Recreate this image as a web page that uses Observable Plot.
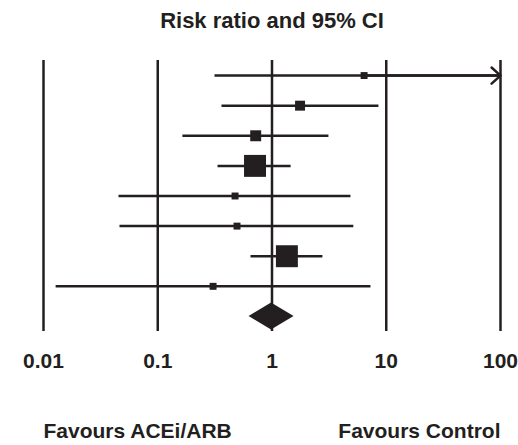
<!DOCTYPE html>
<html>
<head>
<meta charset="utf-8">
<script src="https://cdn.jsdelivr.net/npm/d3@7"></script>
<script src="https://cdn.jsdelivr.net/npm/@observablehq/plot@0.6"></script>
<style>
  html, body { margin: 0; padding: 0; background: #fff; }
</style>
</head>
<body>
<div id="chart"></div>
<script>
// Study rows (top to bottom)
const rows = [1, 2, 3, 4, 5, 6, 7, 8];
const riskRatio = [6.4, 1.76, 0.72, 0.71, 0.475, 0.494, 1.35, 0.305];
const ciLower = [0.317, 0.365, 0.166, 0.337, 0.0458, 0.0467, 0.655, 0.0129];
const ciUpper = [150, 8.63, 3.15, 1.47, 4.91, 5.2, 2.79, 7.35];
const weights = [3.5, 7.2, 8.7, 34.9, 3.5, 3.5, 34.9, 3.5];

// Pooled estimate
const pooledRow = 9;
const pooledRR = 0.99;
const pooledLower = 0.63;
const pooledUpper = 1.56;

const tickValues = [0.01, 0.1, 1, 10, 100];
const tickLabels = ["0.01", "0.1", "1", "10", "100"];
const xMax = 100;

const titleText = "Risk ratio and 95% CI";
const leftLabel = "Favours ACEi/ARB";
const rightLabel = "Favours Control";

const ink = "#231f20";

const studies = rows.map((r, i) => ({
  row: r, rr: riskRatio[i], lo: ciLower[i], hi: ciUpper[i], w: weights[i]
}));
const clipped = studies.filter(d => d.hi > xMax);
const h = 0.45;
const diamond = [
  {y: pooledRow - h, x1: pooledRR, x2: pooledRR},
  {y: pooledRow, x1: pooledLower, x2: pooledUpper},
  {y: pooledRow + h, x1: pooledRR, x2: pooledRR}
];

const chart = Plot.plot({
  width: 518,
  height: 445,
  marginLeft: 43,
  marginRight: 18,
  marginTop: 60,
  marginBottom: 114,
  style: {fontFamily: "'Liberation Sans', Arial, sans-serif", background: "#fff", color: ink},
  x: {type: "log", domain: [0.01, xMax]},
  y: {domain: [0.5, 9.5], reverse: true, axis: null},
  r: {type: "sqrt", domain: [0, 35], range: [0, 12.4]},
  marks: [
    Plot.ruleX(tickValues, {y1: 0.5, y2: 9.5, stroke: ink, strokeWidth: 2.5}),
    Plot.ruleY(studies, {y: "row", x1: "lo", x2: d => Math.min(d.hi, xMax), stroke: ink, strokeWidth: 2.5}),
    Plot.arrow(clipped, {x1: "rr", x2: () => xMax, y1: "row", y2: "row", stroke: ink, strokeWidth: 2.5, headLength: 7.2, headAngle: 84, bend: 0}),
    Plot.dot(studies, {x: "rr", y: "row", r: "w", symbol: "square", fill: ink, stroke: null}),
    Plot.areaX(diamond, {y: "y", x1: "x1", x2: "x2", fill: ink, curve: "linear"}),
    Plot.axisX({ticks: tickValues, tickFormat: d => tickLabels[tickValues.indexOf(d)], tickSize: 0, tickPadding: 22, fontSize: 21, fontWeight: "bold", label: null}),
    Plot.text([titleText], {frameAnchor: "top", lineAnchor: "middle", dy: -40, fontSize: 22, fontWeight: "bold", fill: ink}),
    Plot.text([leftLabel], {frameAnchor: "bottom-left", lineAnchor: "middle", textAnchor: "start", dy: 100, fontSize: 21, fontWeight: "bold", fill: ink}),
    Plot.text([rightLabel], {frameAnchor: "bottom-right", lineAnchor: "middle", textAnchor: "end", dy: 100, fontSize: 21, fontWeight: "bold", fill: ink})
  ]
});
document.getElementById("chart").appendChild(chart);
</script>
</body>
</html>
